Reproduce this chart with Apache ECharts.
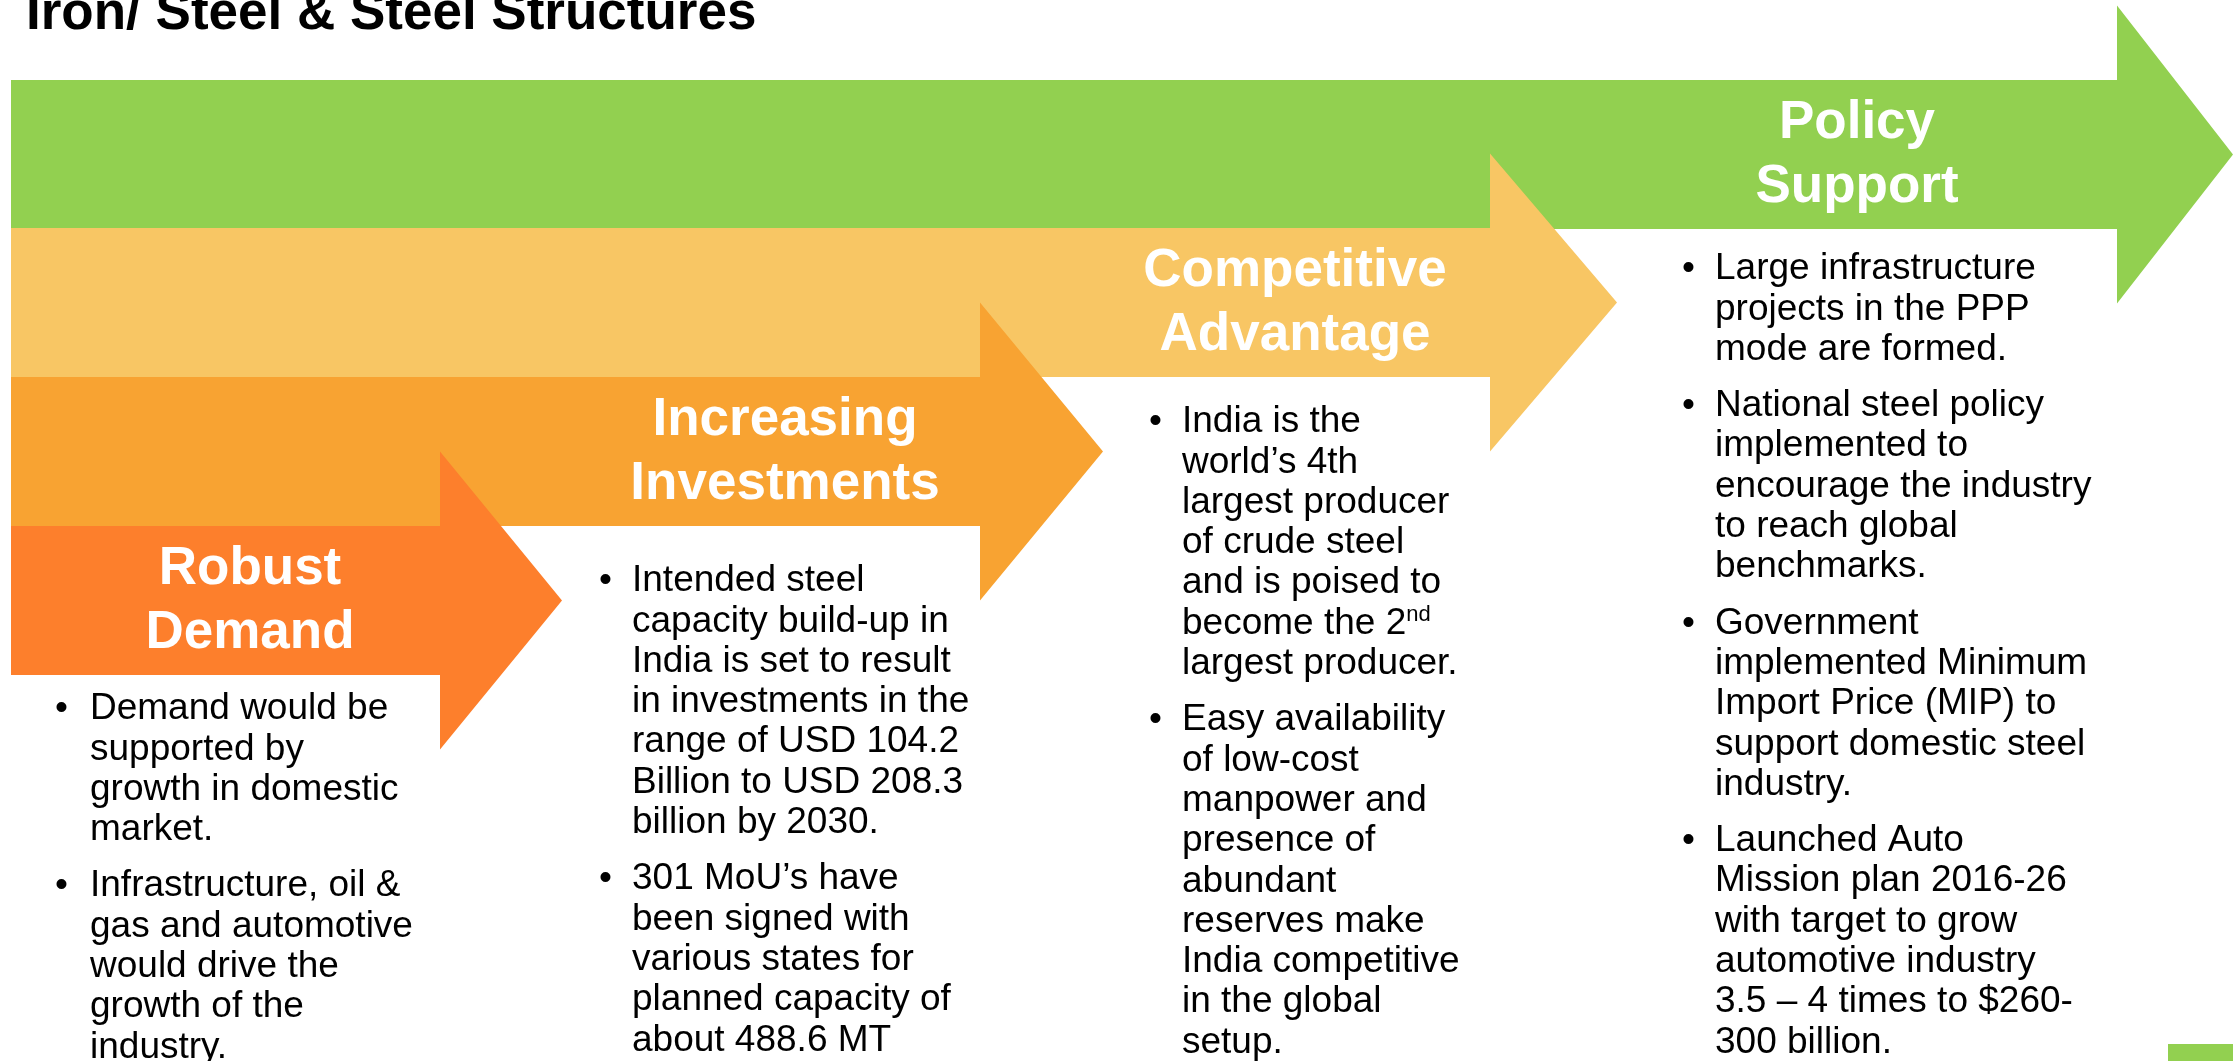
<!DOCTYPE html>
<html>
<head>
<meta charset="utf-8">
<script src="https://cdn.jsdelivr.net/npm/echarts@6/dist/echarts.min.js"></script>
<style>
  html, body { margin: 0; padding: 0; background: #ffffff; }
  #chart { width: 2233px; height: 1061px; }
</style>
</head>
<body>
<div id="chart"></div>
<script>
// ---------------- content ----------------
const titleText = 'Iron/ Steel & Steel Structures';

const stageHeadings = [
  ['Robust', 'Demand'],
  ['Increasing', 'Investments'],
  ['Competitive', 'Advantage'],
  ['Policy', 'Support']
];

const demandBullets = [
  ['Demand would be', 'supported by', 'growth in domestic', 'market.'],
  ['Infrastructure, oil &', 'gas and automotive', 'would drive the', 'growth of the', 'industry.']
];

const investmentBullets = [
  ['Intended steel', 'capacity build-up in', 'India is set to result', 'in investments in the',
   'range of USD 104.2', 'Billion to USD 208.3', 'billion by 2030.'],
  ['301 MoU\u2019s have', 'been signed with', 'various states for', 'planned capacity of', 'about 488.6 MT']
];

const advantageBullets = [
  ['India is the', 'world\u2019s 4th', 'largest producer', 'of crude steel', 'and is poised to',
   'become the 2{sup|nd}', 'largest producer.'],
  ['Easy availability', 'of low-cost', 'manpower and', 'presence of', 'abundant',
   'reserves make', 'India competitive', 'in the global', 'setup.']
];

const policyBullets = [
  ['Large infrastructure', 'projects in the PPP', 'mode are formed.'],
  ['National steel policy', 'implemented to', 'encourage the industry', 'to reach global', 'benchmarks.'],
  ['Government', 'implemented Minimum', 'Import Price (MIP) to', 'support domestic steel', 'industry.'],
  ['Launched Auto', 'Mission plan 2016-26', 'with target to grow', 'automotive industry',
   '3.5 \u2013 4 times to $260-', '300 billion.']
];

const stageBullets = [demandBullets, investmentBullets, advantageBullets, policyBullets];

// ---------------- layout & style ----------------
const FONT = '"Liberation Sans", Arial, Helvetica, sans-serif';
const arrowColors = ['#FD7F2C', '#F8A332', '#F8C664', '#92D050'];
const arrowLeft = 11;
const bodyH = 149;
const headHalf = 149;
const bodyTops = [526, 377, 228, 80];
const headStarts = [440, 980, 1490, 2117];
const headTips = [562, 1103, 1617, 2233];
const headingX = [250, 785, 1295, 1857];
const bulletX = [55, 599, 1149, 1682];
const textX = [90, 632, 1182, 1715];
const firstLineY = [709, 581, 422, 269];
const LINE_H = 40.3;
const PARA_GAP = 16;
const BODY_SIZE = 37;
const HEAD_SIZE = 53;

const graphics = [];

// arrows: drawn from the back (green) to the front (dark orange)
for (let i = 3; i >= 0; i--) {
  const top = bodyTops[i];
  const bot = top + bodyH;
  const mid = (top + bot) / 2;
  graphics.push({
    type: 'polygon',
    silent: true,
    shape: {
      points: [
        [arrowLeft, top], [headStarts[i], top], [headStarts[i], mid - headHalf],
        [headTips[i], mid], [headStarts[i], mid + headHalf], [headStarts[i], bot],
        [arrowLeft, bot]
      ]
    },
    style: { fill: arrowColors[i] }
  });
}

// headings inside arrows
stageHeadings.forEach((lines, i) => {
  const mid = bodyTops[i] + bodyH / 2;
  const gap = 63.5;
  lines.forEach((ln, k) => {
    graphics.push({
      type: 'text',
      silent: true,
      style: {
        text: ln,
        x: headingX[i],
        y: mid + (k - (lines.length - 1) / 2) * gap + 1,
        textAlign: 'center',
        textVerticalAlign: 'middle',
        fontSize: HEAD_SIZE,
        fontWeight: 'bold',
        fontFamily: FONT,
        fill: '#ffffff'
      }
    });
  });
});

// bullet paragraphs
stageBullets.forEach((paras, i) => {
  let y = firstLineY[i];
  paras.forEach((lines) => {
    graphics.push({
      type: 'text',
      silent: true,
      style: {
        text: '\u2022',
        x: bulletX[i],
        y: y,
        textAlign: 'left',
        textVerticalAlign: 'middle',
        fontSize: BODY_SIZE,
        fontFamily: FONT,
        fill: '#000000'
      }
    });
    lines.forEach((ln) => {
      graphics.push({
        type: 'text',
        silent: true,
        style: {
          text: ln,
          x: textX[i],
          y: y,
          textAlign: 'left',
          textVerticalAlign: 'middle',
          fontSize: BODY_SIZE,
          fontFamily: FONT,
          lineHeight: 40,
          fill: '#000000',
          rich: {
            sup: { fontSize: 22, lineHeight: 22, verticalAlign: 'top', fontFamily: FONT, fill: '#000000' }
          }
        }
      });
      y += LINE_H;
    });
    y += PARA_GAP;
  });
});

// title
graphics.push({
  type: 'text',
  silent: true,
  style: {
    text: titleText,
    x: 26,
    y: 14,
    textAlign: 'left',
    textVerticalAlign: 'middle',
    fontSize: HEAD_SIZE,
    fontWeight: 'bold',
    fontFamily: FONT,
    fill: '#000000'
  }
});

// small corner mark
graphics.push({
  type: 'rect',
  silent: true,
  shape: { x: 2168, y: 1044, width: 65, height: 17 },
  style: { fill: '#92D050' }
});

const chart = echarts.init(document.getElementById('chart'), null, { renderer: 'canvas' });
chart.setOption({
  animation: false,
  backgroundColor: '#ffffff',
  graphic: { elements: graphics }
});
</script>
</body>
</html>
